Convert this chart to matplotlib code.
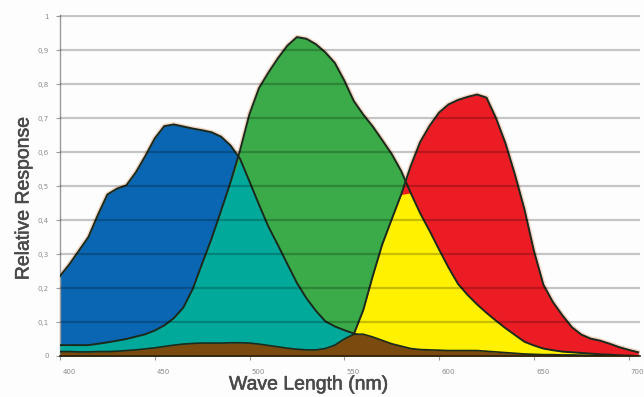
import numpy as np
import matplotlib
matplotlib.use("Agg")
import matplotlib.pyplot as plt
import matplotlib.patheffects as pe
from matplotlib.transforms import ScaledTranslation

# ---- data (wavelength grid in nm, relative responses) ----
wavelength = np.arange(400, 710, 5)

blue = [0.235, 0.270, 0.310, 0.350, 0.415, 0.475, 0.492, 0.502, 0.540, 0.588,
        0.640, 0.676, 0.681, 0.675, 0.669, 0.664, 0.658, 0.645, 0.619, 0.580,
        0.513, 0.445, 0.380, 0.326, 0.270, 0.215, 0.170, 0.133, 0.102, 0.087,
        0.076, 0.066, 0.058, 0.050, 0.042, 0.033, 0.026, 0.020, 0.016, 0.013,
        0.011, 0.009, 0.008, 0.007, 0.006, 0.005, 0.005, 0.004, 0.004, 0.003,
        0.002, 0.002, 0.001, 0.001, 0.001, 0.001, 0.0, 0.0, 0.0, 0.0,
        0.0, 0.0]

green = [0.032, 0.032, 0.032, 0.032, 0.036, 0.040, 0.045, 0.050, 0.057, 0.064,
         0.075, 0.090, 0.111, 0.142, 0.197, 0.272, 0.346, 0.428, 0.512, 0.605,
         0.712, 0.788, 0.834, 0.876, 0.913, 0.938, 0.933, 0.917, 0.893, 0.862,
         0.810, 0.750, 0.710, 0.675, 0.635, 0.594, 0.544, 0.480, 0.420, 0.368,
         0.313, 0.260, 0.212, 0.180, 0.152, 0.127, 0.104, 0.082, 0.062, 0.042,
         0.031, 0.022, 0.017, 0.013, 0.011, 0.009, 0.007, 0.005, 0.004, 0.002,
         0.001, 0.0]

red = [0.0, 0.0, 0.0, 0.0, 0.0, 0.0, 0.0, 0.0, 0.0, 0.0,
       0.0, 0.0, 0.0, 0.0, 0.0, 0.0, 0.0, 0.0, 0.0, 0.0,
       0.002, 0.003, 0.004, 0.005, 0.006, 0.008, 0.010, 0.012, 0.015, 0.020,
       0.030, 0.064, 0.135, 0.235, 0.328, 0.402, 0.475, 0.558, 0.629, 0.677,
       0.716, 0.740, 0.753, 0.762, 0.769, 0.760, 0.700, 0.626, 0.534, 0.432,
       0.310, 0.210, 0.159, 0.120, 0.085, 0.063, 0.051, 0.045, 0.036, 0.026,
       0.018, 0.011]

brown = [0.013, 0.013, 0.012, 0.012, 0.013, 0.013, 0.014, 0.016, 0.018, 0.021,
         0.024, 0.028, 0.032, 0.035, 0.037, 0.038, 0.038, 0.038, 0.039, 0.039,
         0.038, 0.035, 0.031, 0.027, 0.023, 0.020, 0.018, 0.018, 0.022, 0.032,
         0.050, 0.064, 0.064, 0.056, 0.046, 0.036, 0.029, 0.022, 0.019, 0.018,
         0.017, 0.016, 0.016, 0.016, 0.016, 0.014, 0.012, 0.010, 0.008, 0.006,
         0.005, 0.004, 0.004, 0.003, 0.003, 0.002, 0.002, 0.002, 0.001, 0.001,
         0.001, 0.0]

x_ticks = [400, 450, 500, 550, 600, 650, 700]
y_ticks = [0, 0.1, 0.2, 0.3, 0.4, 0.5, 0.6, 0.7, 0.8, 0.9, 1.0]
y_tick_labels = ["0", "0,1", "0,2", "0,3", "0,4", "0,5", "0,6", "0,7", "0,8", "0,9", "1"]
x_label = "Wave Length (nm)"
y_label = "Relative Response"

# ---- styling ----
C_BLUE = "#0a66b2"
C_GREEN = "#3aab48"
C_RED = "#ec1c24"
C_TEAL = "#00a99a"
C_YELLOW = "#fff100"
C_BROWN = "#7a4a0e"
C_EDGE = "#1b2a1c"

b = np.array(blue)
g = np.array(green)
r = np.array(red)
br = np.array(brown)

fig = plt.figure(figsize=(6.44, 3.97), dpi=100)
fig.patch.set_facecolor("#fdfdfd")
ax = fig.add_axes([60 / 644, 41 / 397, 580 / 644, 341 / 397])
ax.set_facecolor("#fdfdfd")

# faint halo below everything (only visible outside the filled shapes)
for arr in (b, g, r):
    ax.plot(wavelength, arr, color="#f3d6c4", lw=3.4, zorder=1.5, solid_joinstyle="round")

# fills
ax.fill_between(wavelength, 0, b, color=C_BLUE, lw=0, zorder=2)
ax.fill_between(wavelength, 0, g, color=C_GREEN, lw=0, zorder=2)
ax.fill_between(wavelength, 0, r, color=C_RED, lw=0, zorder=2)
ax.fill_between(wavelength, 0, np.minimum(b, g), color=C_TEAL, lw=0, zorder=3)
ax.fill_between(wavelength, 0, np.minimum(g, r), color=C_YELLOW, lw=0, zorder=3)

# outlines
for arr in (b, g, r):
    ax.plot(wavelength, arr, color=C_EDGE, lw=1.4, zorder=4, solid_joinstyle="round")

ax.fill_between(wavelength, 0, br, color=C_BROWN, lw=0, zorder=5)
ax.plot(wavelength, br, color=C_EDGE, lw=1.2, zorder=6)

# gridlines drawn on top (darken underlying colours)
for yv in y_ticks[1:]:
    ax.axhline(yv, color="black", alpha=0.22, lw=1.6, zorder=7)

ax.set_xlim(400, 706)
ax.set_ylim(0, 1.003)

for side in ("top", "right"):
    ax.spines[side].set_visible(False)
ax.spines["left"].set_color("#9a9a9a")
ax.spines["left"].set_linewidth(1.0)
ax.spines["bottom"].set_color("#2a2010")
ax.spines["bottom"].set_linewidth(1.2)
ax.spines["bottom"].set_zorder(8)

ax.set_xticks(x_ticks)
ax.set_xticklabels([str(v) for v in x_ticks])
ax.set_yticks(y_ticks)
ax.set_yticklabels(y_tick_labels)
ax.tick_params(axis="both", labelsize=5, labelcolor="#8a8a8a", color="#9a9a9a",
               length=3, width=0.8, direction="out")
ax.tick_params(axis="y", pad=5)
ax.tick_params(axis="x", pad=6)
offset = ScaledTranslation(9 / 100, 0, fig.dpi_scale_trans)
for lab in ax.get_xticklabels():
    lab.set_transform(lab.get_transform() + offset)

bold_fx = [pe.withStroke(linewidth=0.4, foreground="#4a4a4a")]
fig.text(309 / 644, 1 - 385 / 397, x_label, ha="center", va="center",
         fontsize=14, color="#4a4a4a", family=["Liberation Sans", "DejaVu Sans"],
         path_effects=bold_fx)
fig.text(24 / 644, 1 - 198 / 397, y_label, ha="center", va="center", rotation=90,
         fontsize=14, color="#4a4a4a", family=["Liberation Sans", "DejaVu Sans"],
         path_effects=bold_fx)

fig.savefig("out.png", dpi=100, facecolor=fig.get_facecolor())
